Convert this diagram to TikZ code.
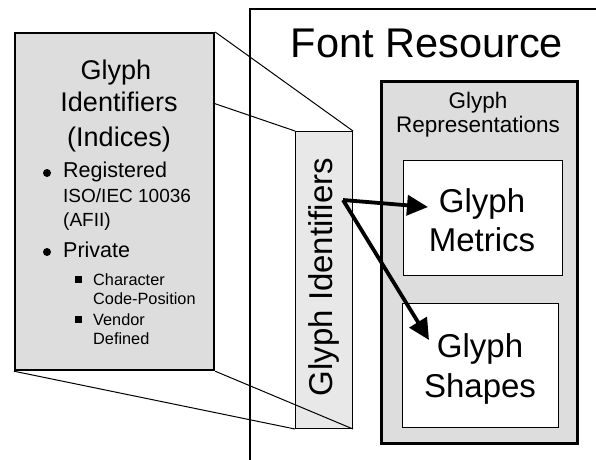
\documentclass[tikz,border=0pt]{standalone}
\usepackage{fontspec}
\setmainfont{Liberation Sans}
\usetikzlibrary{arrows.meta}

\definecolor{panelgray}{HTML}{DDDDDD}
\definecolor{bargray}{HTML}{E8E8E8}

\tikzset{
  panel/.style={draw, fill=panelgray, line width=2.2pt, inner sep=0pt, anchor=north west},
  repbox/.style={draw, fill=panelgray, line width=3pt, inner sep=0pt, anchor=north west},
  innerbox/.style={draw, fill=white, line width=1.2pt, inner sep=0pt, anchor=north west},
  idbar/.style={draw, fill=bargray, line width=1pt, inner sep=0pt, anchor=north west},
  txt/.style={inner sep=0pt, anchor=base},
  ltxt/.style={inner sep=0pt, anchor=base west},
  zoomline/.style={line width=1pt},
  flow/.style={line width=3.8pt, -{Triangle[length=21pt,width=20pt]}},
  bigfont/.style={font=\fontsize{41.5}{46}\selectfont},
  headfont/.style={font=\fontsize{27}{31}\selectfont},
  boxfont/.style={font=\fontsize{33}{38}\selectfont},
  itemfont/.style={font=\fontsize{21.5}{25}\selectfont},
  subfont/.style={font=\fontsize{19}{22}\selectfont},
  smallfont/.style={font=\fontsize{16.3}{19}\selectfont},
  repfont/.style={font=\fontsize{22.5}{26}\selectfont},
}

\begin{document}
\begin{tikzpicture}[x=1pt, y=-1pt]
\useasboundingbox (0,0) rectangle (596,459);

% Font resource frame (open to the right and bottom)
\draw[line width=2.6pt] (250,470) -- (250,9) -- (610,9);
\node[txt, bigfont] (fr) at (427,57) {Font Resource};

% Glyph identifier detail panel
\node[panel, minimum width=199pt, minimum height=337pt] (ids) at (14,32) {};
\node[txt, headfont] (h1) at (116,79) {Glyph};
\node[txt, headfont] (h2) at (119,111) {Identifiers};
\node[txt, headfont] (h3) at (119,146) {(Indices)};

\fill (47,173) circle (4pt);
\node[ltxt, itemfont] (reg) at (63,177) {Registered};
\node[ltxt, subfont] (iso) at (63,202) {ISO/IEC 10036};
\node[ltxt, subfont] (afii) at (63,226) {(AFII)};

\fill (47,252) circle (4pt);
\node[ltxt, itemfont] (priv) at (63,257) {Private};

\fill (74.5,276) rectangle (81.5,283);
\node[ltxt, smallfont] (chr) at (93,285) {Character};
\node[ltxt, smallfont] (cpos) at (93,304) {Code-Position};
\fill (74.5,316) rectangle (81.5,323);
\node[ltxt, smallfont] (vend) at (93,325) {Vendor};
\node[ltxt, smallfont] (defd) at (93,344) {Defined};

% Glyph identifier bar inside the font resource
\node[idbar, minimum width=57pt, minimum height=297pt] (bar) at (295,131) {};
\node[inner sep=0pt, rotate=90, boxfont] (bartxt) at (324,277) {Glyph Identifiers};

% Zoom lines from the detail panel to the bar
\coordinate (idsmid) at (213,103);
\draw[zoomline] (ids.north east) -- (bar.north east);
\draw[zoomline] (idsmid) -- (bar.north west);
\draw[zoomline] (ids.south west) -- (bar.south west);
\draw[zoomline] (ids.south east) -- (bar.south east);

% Glyph representations
\node[repbox, minimum width=196pt, minimum height=362pt] (rep) at (380,80) {};
\node[txt, repfont] (rep1) at (478,108) {Glyph};
\node[txt, repfont] (rep2) at (478,132) {Representations};

\node[innerbox, minimum width=159pt, minimum height=115pt] (met) at (403,160) {};
\node[txt, boxfont] (met1) at (482,212) {Glyph};
\node[txt, boxfont] (met2) at (482,251) {Metrics};

\node[innerbox, minimum width=156pt, minimum height=124pt] (shp) at (402,303) {};
\node[txt, boxfont] (shp1) at (480,357) {Glyph};
\node[txt, boxfont] (shp2) at (480,397) {Shapes};

% Mapping arrows
\coordinate (src) at (343,200);
\coordinate (tometrics) at (428,207);
\coordinate (toshapes) at (429,340);
\draw[flow] (src) -- (tometrics);
\draw[flow] (src) -- (toshapes);
\end{tikzpicture}
\end{document}
